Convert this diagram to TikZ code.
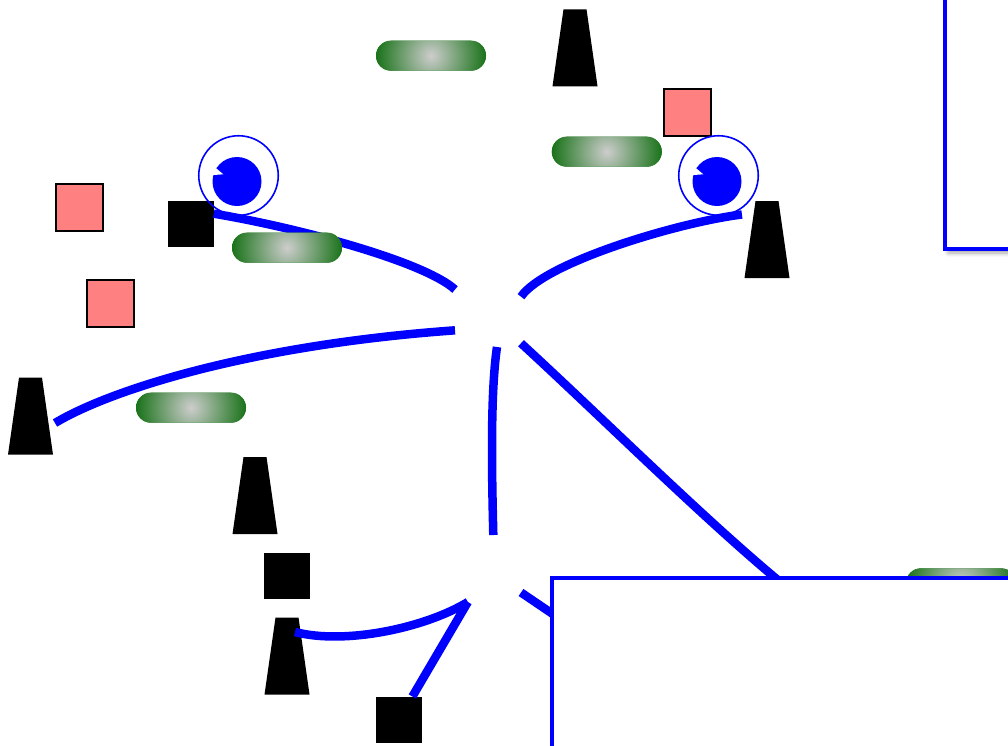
\documentclass[tikz,border=0pt]{standalone}
\usetikzlibrary{shadows.blur}
\definecolor{pillg}{RGB}{16,110,16}
\definecolor{pillc}{RGB}{205,205,205}
\definecolor{pinkf}{RGB}{255,128,128}
\tikzset{
  conn/.style={draw=blue, line width=8.5pt},
  pill/.style={rectangle, rounded corners=15pt, minimum width=110pt, minimum height=30pt, inner sep=0pt, fill=pillg,
    path picture={\shade[inner color=pillc, outer color=pillg] (path picture bounding box.center) circle[radius=58];}},
  blacksq/.style={rectangle, fill=black, minimum size=46pt, inner sep=0pt},
  pinksq/.style={rectangle, fill=pinkf, draw=black, line width=2pt, minimum size=47pt, inner sep=0pt},
  hub/.style={rectangle, minimum width=66pt, minimum height=67pt, inner sep=0pt, outer sep=0pt},
  eyering/.style={circle, draw=blue, line width=1.6pt, minimum size=79.5pt, inner sep=0pt, outer sep=5.75pt},
  trapz/.pic={\fill[black] (-22.5,-38.5) -- (22.5,-38.5) -- (11.5,38.5) -- (-11.5,38.5) -- cycle;},
  pupil/.pic={\fill[blue] (0,0) circle[radius=24.5];
              \fill[white] (-25.9,17.5) -- (-13.7,7.2) -- (-27.5,6.2) -- cycle;},
  panel/.style={draw=blue, line width=4.5pt, fill=white}
}
\begin{document}
\begin{tikzpicture}[x=1pt,y=1pt]
\useasboundingbox (0,0) rectangle (1008,-745);
\clip (0,0) rectangle (1008,-745);

% top-right panel
\draw[panel, blur shadow={shadow xshift=3pt, shadow yshift=-4pt, shadow blur radius=4pt, shadow opacity=35}] (945,-249) rectangle (1040,30);

% invisible hubs
\node[hub] (A) at (488,-313.5) {};
\node[hub] (B) at (488,-568.5) {};

% black squares
\node[blacksq] (sq1) at (190.5,-223.5) {};
\node[blacksq] (sq2) at (287,-575.7) {};
\node[blacksq] (sq3) at (398.8,-719.7) {};

% pink squares
\node[pinksq] (pk1) at (79,-207.8) {};
\node[pinksq] (pk2) at (110.8,-303.7) {};
\node[pinksq] (pk3) at (687,-112) {};

% trapezoids
\pic at (575,-47.8) {trapz};
\pic at (767,-239.5) {trapz};
\pic at (30.5,-416) {trapz};
\pic at (255,-495.5) {trapz};
\pic at (287,-656) {trapz};

% eyes
\node[eyering] (eye1) at (238.5,-175.5) {};
\node[eyering] (eye2) at (718.5,-175.5) {};
\pic at (237,-181.5) {pupil};
\pic at (717,-181.5) {pupil};

% free ends
\coordinate (t3end) at (55,-423);
\coordinate (t5end) at (295,-632);
\coordinate (diagEnd) at (800,-598);
\coordinate (shortEnd) at (600,-646);

% connectors
\draw[conn] (eye1.237.5) .. controls (300,-228) and (425,-262) .. (A.144.5);
\draw[conn] (eye2.-59.6) .. controls (680,-222) and (545,-262) .. (A.27.3);
\draw[conn] (t3end) .. controls (110,-390) and (250,-345) .. (A.207.9);
\draw[conn] (A.-75) .. controls (490,-395) and (492,-480) .. (B.81.5);
\draw[conn] (A.-42.7) .. controls (610,-425) and (720,-535) .. (diagEnd);
\draw[conn] (t5end) .. controls (345,-645) and (425,-628) .. (B.239);
\draw[conn] (sq3) -- (B.239);
\draw[conn] (B.-36.6) -- (shortEnd);

% pills
\node[pill] (p1) at (431,-55.7) {};
\node[pill] (p2) at (606.8,-151.7) {};
\node[pill] (p3) at (287,-247.7) {};
\node[pill] (p4) at (191,-407.7) {};
\node[pill] (p5) at (961,-583.3) {};

% bottom panel
\draw[panel] (552,-578) rectangle (1040,-780);
\end{tikzpicture}
\end{document}
